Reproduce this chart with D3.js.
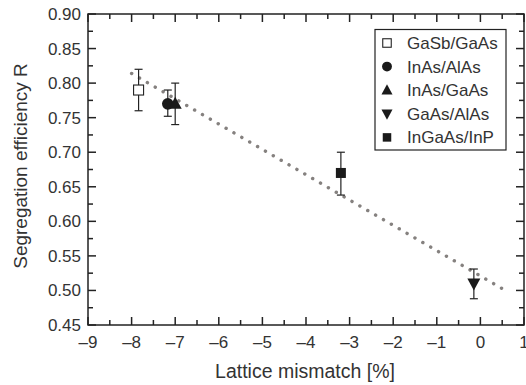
<!DOCTYPE html>
<html>
<head>
<meta charset="utf-8">
<script src="https://cdn.jsdelivr.net/npm/d3@7"></script>
<style>
  body { margin: 0; background: #fff; }
  text { font-family: "Liberation Sans", Arial, sans-serif; fill: #333; }
</style>
</head>
<body>
<svg id="chart" width="526" height="385"></svg>
<script>
// data
const materials = ["GaSb/GaAs", "InAs/AlAs", "InAs/GaAs", "GaAs/AlAs", "InGaAs/InP"];
const symbols = ["squareOpen", "circle", "triangle", "triangleDown", "square"];
const mismatch = [-7.84, -7.17, -7.0, -0.15, -3.2];
const efficiency = [0.79, 0.77, 0.77, 0.51, 0.67];
const errLow = [0.76, 0.752, 0.74, 0.488, 0.638];
const errHigh = [0.82, 0.79, 0.80, 0.531, 0.70];
const fitX = [-8.0, 0.6];
const fitY = [0.814, 0.499];
const xTicks = [-9, -8, -7, -6, -5, -4, -3, -2, -1, 0, 1];
const yTicks = [0.45, 0.50, 0.55, 0.60, 0.65, 0.70, 0.75, 0.80, 0.85, 0.90];

const margin = {left: 88, right: 2, top: 14, bottom: 60};
const width = 526, height = 385;

const svg = d3.select("#chart");

const x = d3.scaleLinear().domain([-9, 1]).range([margin.left, width - margin.right]);
const y = d3.scaleLinear().domain([0.45, 0.90]).range([height - margin.bottom, margin.top]);

const g = svg.append("g");

// fit line (dotted)
g.append("line")
    .attr("x1", x(fitX[0])).attr("y1", y(fitY[0]))
    .attr("x2", x(fitX[1])).attr("y2", y(fitY[1]))
    .attr("stroke", "#85817f")
    .attr("stroke-width", 3.4)
    .attr("stroke-linecap", "round")
    .attr("stroke-dasharray", "0.1 9");

// error bars
const pts = materials.map((m, i) => ({m, s: symbols[i], x: mismatch[i], y: efficiency[i], lo: errLow[i], hi: errHigh[i]}));

const eb = g.append("g").attr("stroke", "#222").attr("stroke-width", 1.2);
pts.forEach(d => {
    eb.append("line").attr("x1", x(d.x)).attr("x2", x(d.x)).attr("y1", y(d.lo)).attr("y2", y(d.hi));
    [d.lo, d.hi].forEach(v => {
        eb.append("line").attr("x1", x(d.x) - 4).attr("x2", x(d.x) + 4).attr("y1", y(v)).attr("y2", y(v));
    });
});

function drawSymbol(sel, type, cx, cy, k) {
    k = k || 1;
    if (type === "squareOpen") {
        sel.append("rect").attr("x", cx - 5 * k).attr("y", cy - 5 * k).attr("width", 10 * k).attr("height", 10 * k)
            .attr("fill", "#fff").attr("stroke", "#222").attr("stroke-width", 1.1);
    } else if (type === "square") {
        sel.append("rect").attr("x", cx - 5 * k).attr("y", cy - 5 * k).attr("width", 10 * k).attr("height", 10 * k)
            .attr("fill", "#1a1a1a");
    } else if (type === "circle") {
        sel.append("circle").attr("cx", cx).attr("cy", cy).attr("r", 5.8 * k).attr("fill", "#1a1a1a");
    } else if (type === "triangle") {
        sel.append("path").attr("d", `M${cx},${cy - 7 * k}L${cx + 6.5 * k},${cy + 5 * k}L${cx - 6.5 * k},${cy + 5 * k}Z`).attr("fill", "#1a1a1a");
    } else if (type === "triangleDown") {
        sel.append("path").attr("d", `M${cx},${cy + 7 * k}L${cx + 6.5 * k},${cy - 5 * k}L${cx - 6.5 * k},${cy - 5 * k}Z`).attr("fill", "#1a1a1a");
    }
}

const marks = g.append("g");
pts.forEach(d => drawSymbol(marks, d.s, x(d.x), y(d.y)));

// frame and ticks (inward)
const fr = svg.append("g").attr("stroke", "#222").attr("stroke-width", 1.5);
fr.append("rect")
    .attr("x", margin.left).attr("y", margin.top)
    .attr("width", width - margin.right - margin.left)
    .attr("height", height - margin.bottom - margin.top)
    .attr("fill", "none");

const xMinor = d3.range(-8.5, 1, 1);
const yMinor = d3.range(0.475, 0.9, 0.05);
const y0 = y(0.45), y1 = y(0.90), x0 = x(-9), x1 = x(1);
const major = 8, minor = 5;
xTicks.forEach(t => {
    fr.append("line").attr("x1", x(t)).attr("x2", x(t)).attr("y1", y0).attr("y2", y0 - major);
    fr.append("line").attr("x1", x(t)).attr("x2", x(t)).attr("y1", y1).attr("y2", y1 + major);
});
xMinor.forEach(t => {
    fr.append("line").attr("x1", x(t)).attr("x2", x(t)).attr("y1", y0).attr("y2", y0 - minor);
    fr.append("line").attr("x1", x(t)).attr("x2", x(t)).attr("y1", y1).attr("y2", y1 + minor);
});
yTicks.forEach(t => {
    fr.append("line").attr("x1", x0).attr("x2", x0 + major).attr("y1", y(t)).attr("y2", y(t));
    fr.append("line").attr("x1", x1).attr("x2", x1 - major).attr("y1", y(t)).attr("y2", y(t));
});
yMinor.forEach(t => {
    fr.append("line").attr("x1", x0).attr("x2", x0 + minor).attr("y1", y(t)).attr("y2", y(t));
    fr.append("line").attr("x1", x1).attr("x2", x1 - minor).attr("y1", y(t)).attr("y2", y(t));
});

// tick labels
svg.append("g").selectAll("text").data(yTicks).join("text")
    .attr("x", x0 - 7).attr("y", d => y(d)).attr("dy", "0.35em")
    .attr("text-anchor", "end").attr("font-size", 17)
    .text(d => d3.format(".2f")(d));

svg.append("g").selectAll("text").data(xTicks).join("text")
    .attr("x", d => x(d)).attr("y", y0 + 23)
    .attr("text-anchor", "middle").attr("font-size", 17)
    .text(d => d < 0 ? "\u2013" + Math.abs(d) : d);

// axis titles
svg.append("text")
    .attr("x", (x0 + x1) / 2 - 1).attr("y", 378)
    .attr("text-anchor", "middle").attr("font-size", 19.5)
    .text("Lattice mismatch [%]");

svg.append("text")
    .attr("transform", `translate(27,166) rotate(-90)`)
    .attr("text-anchor", "middle").attr("font-size", 19)
    .text("Segregation efficiency R");

// legend
const lg = svg.append("g");
lg.append("rect").attr("x", 375).attr("y", 29.5).attr("width", 131).attr("height", 120.5)
    .attr("fill", "#fff").attr("stroke", "#222").attr("stroke-width", 1.2);
pts.forEach((d, i) => {
    const ly = 43 + i * 23.6;
    drawSymbol(lg, d.s, 387, ly, 0.85);
    lg.append("text").attr("x", 407).attr("y", ly).attr("dy", "0.35em")
        .attr("font-size", 17).text(d.m);
});
</script>
</body>
</html>
